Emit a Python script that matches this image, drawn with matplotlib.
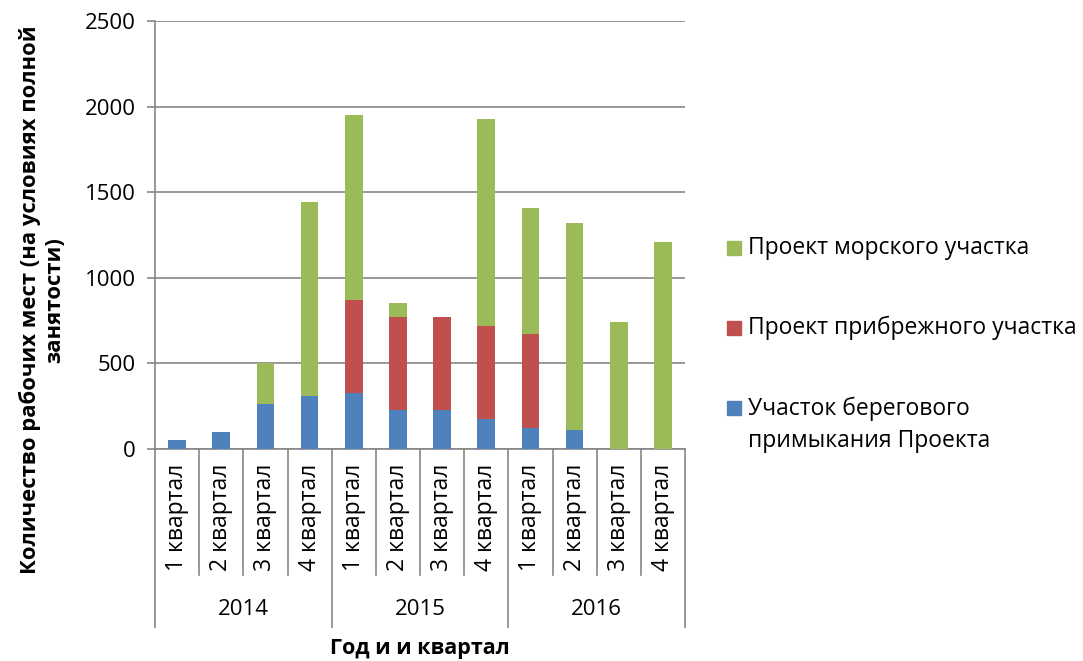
import matplotlib.pyplot as plt
from matplotlib.patches import Rectangle

plt.rcParams['font.family'] = ['Open Sans', 'DejaVu Sans']

years = ["2014", "2015", "2016"]
quarters = ["1 квартал", "2 квартал", "3 квартал", "4 квартал"]

# cumulative tops, turned into segment heights below
shore = [50, 100, 260, 310, 325, 230, 230, 175, 125, 110, 0, 0]
coastal = [0, 0, 0, 0, 545, 540, 540, 545, 545, 0, 0, 0]
offshore = [0, 0, 240, 1135, 1080, 85, 0, 1210, 740, 1210, 740, 1210]

series_names = ["Проект морского участка", "Проект прибрежного участка",
                "Участок берегового\nпримыкания Проекта"]
colors = {"blue": "#4F81BD", "red": "#C0504D", "green": "#9BBB59"}
grid_color = "#868686"

fig = plt.figure(figsize=(10.83, 6.61), dpi=100)
ax = fig.add_axes([155 / 1083, 1 - 449 / 661, 530 / 1083, 428 / 661])

x = list(range(12))
w = 0.4
ax.bar(x, shore, w, color=colors["blue"], zorder=3)
ax.bar(x, coastal, w, bottom=shore, color=colors["red"], zorder=3)
bottom2 = [a + b for a, b in zip(shore, coastal)]
ax.bar(x, offshore, w, bottom=bottom2, color=colors["green"], zorder=3)

ax.set_xlim(-0.5, 11.5)
ax.set_ylim(0, 2500)
ax.set_yticks(range(0, 2501, 500))
ax.yaxis.grid(True, color=grid_color, linewidth=1.2)
ax.set_axisbelow(True)
for s in ["top", "right"]:
    ax.spines[s].set_visible(False)
ax.spines["left"].set_color(grid_color)
ax.spines["left"].set_linewidth(1.2)
ax.spines["bottom"].set_color(grid_color)
ax.spines["bottom"].set_linewidth(1.2)
ax.tick_params(axis="y", length=6, width=1.2, color=grid_color, labelsize=16, pad=8)
ax.set_xticks([])

# multi-level category axis
tr = ax.get_xaxis_transform()
for i in range(13):
    xb = i - 0.5
    low = -0.416 if i % 4 == 0 else -0.294
    ax.plot([xb, xb], [0, low], color=grid_color, lw=1.2, transform=tr, clip_on=False)
for i in x:
    ax.text(i, -0.035, quarters[i % 4], rotation=90, ha="center", va="top",
            fontsize=16.5, transform=tr)
for j, yr in enumerate(years):
    ax.text(4 * j + 1.5, -0.376, yr, ha="center", va="center", fontsize=16, transform=tr)

ax.text(5.5, -0.465, "Год и и квартал", ha="center", va="center", fontsize=15.5,
        fontweight="bold", transform=tr)
fig.text(42 / 1083, 1 - 300 / 661,
         "Количество рабочих мест (на условиях полной\nзанятости)",
         rotation=90, ha="center", va="center", fontsize=15.8, fontweight="bold",
         multialignment="center", linespacing=1.15)

# legend drawn by hand
legend_rows = [(248, colors["green"]), (328, colors["red"]), (425, colors["blue"])]
for (yc, col), name in zip(legend_rows, series_names):
    sq_y = yc if "\n" not in name else 408
    fig.patches.append(Rectangle((727 / 1083, 1 - (sq_y + 7) / 661), 14 / 1083, 14 / 661,
                                 transform=fig.transFigure, color=col))
    fig.text(748 / 1083, 1 - yc / 661, name, ha="left", va="center", fontsize=16.5,
             linespacing=1.45)

plt.savefig("out.png", dpi=100)
